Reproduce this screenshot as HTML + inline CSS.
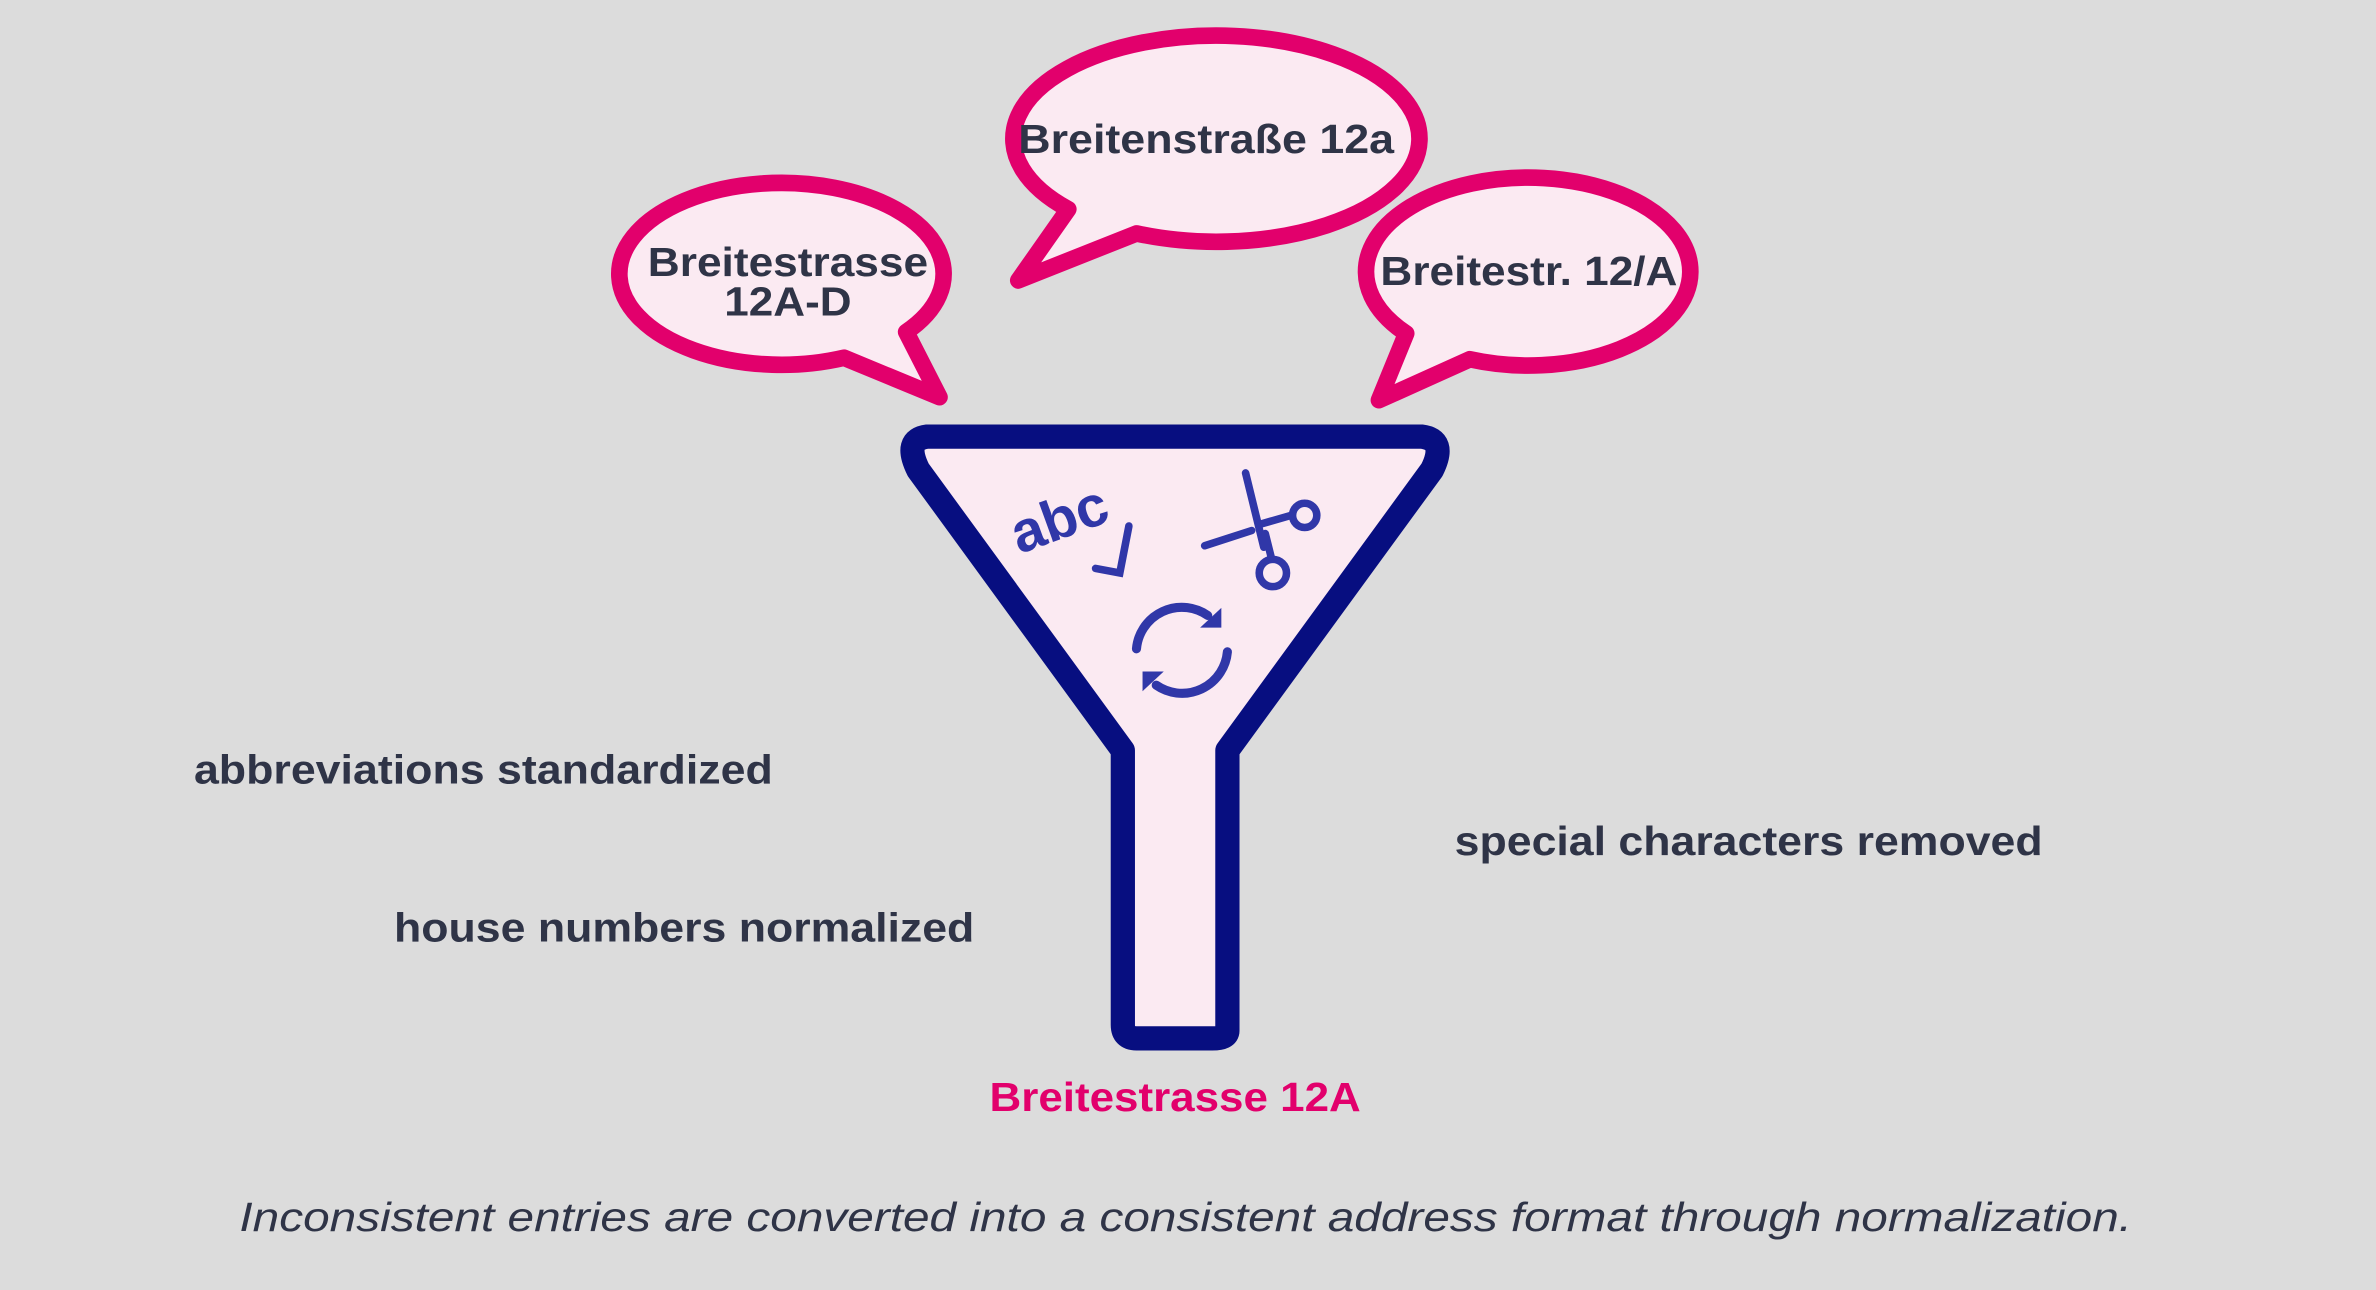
<!DOCTYPE html>
<html><head><meta charset="utf-8"><style>
html,body{margin:0;padding:0;background:#dcdcdc;}
svg{display:block}
text{font-family:"Liberation Sans",sans-serif;}
</style></head><body>
<svg width="2376" height="1290" viewBox="0 0 1568 851" preserveAspectRatio="none" xmlns="http://www.w3.org/2000/svg">
<rect width="1568" height="851" fill="#dcdcdc"/>
<g fill="#fbeaf2" stroke="#e2006c" stroke-width="11" stroke-linejoin="round">
<path d="M750,154 A134 68 0 1 0 705,138 L672,185 Z"/>
<path d="M557,236 A107 60 0 1 1 598,219 L620,262 Z"/>
<path d="M970,237 A107 62 0 1 0 928,220 L910,264 Z"/>
</g>
<g fill="#2f3447" font-weight="bold" font-size="27" text-anchor="middle">
<text x="796" y="101" textLength="248" lengthAdjust="spacingAndGlyphs">Breitenstraße 12a</text>
<text x="520" y="182" textLength="185" lengthAdjust="spacingAndGlyphs">Breitestrasse</text>
<text x="520" y="208" textLength="84" lengthAdjust="spacingAndGlyphs">12A-D</text>
<text x="1009" y="188" textLength="196" lengthAdjust="spacingAndGlyphs">Breitestr. 12/A</text>
</g>
<path d="M612,288 L938,288 Q955,290 945,310 L810,495 L810,680 Q810,685 800,685 L750,685 Q741,685 741,676 L741,495 L606,310 Q596,290 612,288 Z" fill="#fbeaf2" stroke="#070e80" stroke-width="16" stroke-linejoin="round"/>
<g fill="none" stroke="#3037a8" stroke-width="5" stroke-linecap="round">
<text x="700" y="355" font-size="38" font-weight="bold" fill="#3037a8" stroke="none" text-anchor="middle" transform="rotate(-20 700 345)">abc</text>
<polyline points="723,375 739,378 745,347"/>
<line x1="822" y1="312" x2="834" y2="361" stroke-width="5"/>
<line x1="795" y1="360" x2="826" y2="350" stroke-width="5"/>
<line x1="831" y1="346" x2="852" y2="340"/>
<circle cx="861" cy="340" r="8"/>
<line x1="835" y1="352" x2="839" y2="368"/>
<circle cx="840" cy="378" r="9"/>
<path d="M750,428 A30 30 0 0 1 797,406" stroke-width="6"/>
<path d="M810,430 A30 30 0 0 1 763,452" stroke-width="6"/>
</g>
<g fill="#3037a8">
<polygon points="806,401 806,414 792,414"/>
<polygon points="754,456 754,443 768,443"/>
</g>
<g fill="#2f3447" font-size="27" font-weight="bold">
<text x="128" y="517" textLength="382" lengthAdjust="spacingAndGlyphs">abbreviations standardized</text>
<text x="260" y="621" textLength="383" lengthAdjust="spacingAndGlyphs">house numbers normalized</text>
<text x="960" y="564" textLength="388" lengthAdjust="spacingAndGlyphs">special characters removed</text>
</g>
<text x="653" y="733" font-size="27" font-weight="bold" fill="#e2006c" textLength="245" lengthAdjust="spacingAndGlyphs">Breitestrasse 12A</text>
<text x="158" y="812" font-size="27" font-style="italic" fill="#2f3447" textLength="1249" lengthAdjust="spacingAndGlyphs">Inconsistent entries are converted into a consistent address format through normalization.</text>
</svg>
</body></html>
